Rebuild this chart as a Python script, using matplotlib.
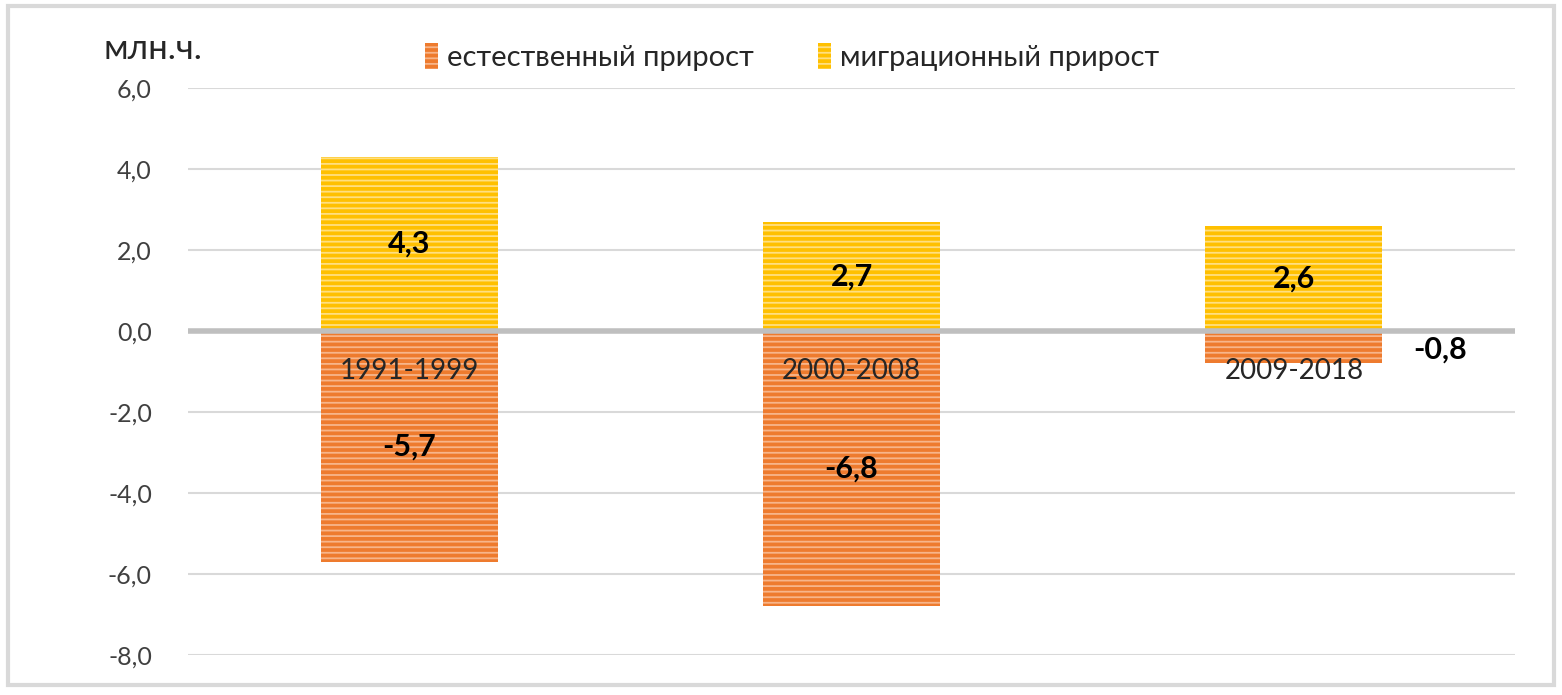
import matplotlib.pyplot as plt
import numpy as np
from matplotlib.patches import Rectangle

plt.rcParams['font.family'] = ['Lato', 'DejaVu Sans']
plt.rcParams['hatch.linewidth'] = 1.3

periods = ['1991-1999', '2000-2008', '2009-2018']
natural = [-5.7, -6.8, -0.8]
migration = [4.3, 2.7, 2.6]
series_names = ['естественный прирост', 'миграционный прирост']

orange = '#EE7B2E'
orange_stripe = '#F7B58A'
yellow = '#FFC000'
yellow_stripe = '#FFDF80'

fig = plt.figure(figsize=(15.62, 6.95), dpi=100)
ax = fig.add_axes([0.1204, 0.0576, 0.8496, 0.8158])

x = np.arange(len(periods))
width = 0.4

b1 = ax.bar(x, natural, width, color=orange, edgecolor=orange_stripe, hatch='---',
            linewidth=0, label=series_names[0], zorder=2)
b2 = ax.bar(x, migration, width, color=yellow, edgecolor=yellow_stripe, hatch='---',
            linewidth=0, label=series_names[1], zorder=2)

ax.set_xlim(-0.5, len(periods) - 0.5)
ax.set_ylim(-8, 6)
ax.set_yticks(np.arange(-8, 7, 2))
ax.set_yticklabels([f'{v:.1f}'.replace('.', ',') for v in np.arange(-8, 7, 2)],
                   fontsize=18, color='#404040')
ax.tick_params(axis='y', length=0, pad=26)
ax.grid(axis='y', color='#D9D9D9', linewidth=1.5, zorder=0)
ax.axhline(0, color='#BFBFBF', linewidth=4, zorder=3)
for s in ax.spines.values():
    s.set_visible(False)

ax.set_xticks([])
for i, p in enumerate(periods):
    ax.text(i, -1.0, p, ha='center', va='center', fontsize=20, color='#262626', zorder=4)

for i in range(len(periods)):
    ax.text(i, migration[i] / 2, f'{migration[i]:.1f}'.replace('.', ','), ha='center',
            va='center', fontsize=22, fontweight='bold', color='black', zorder=4)
    lbl = f'{natural[i]:.1f}'.replace('.', ',')
    if abs(natural[i]) > 2:
        ax.text(i, natural[i] / 2, lbl, ha='center', va='center', fontsize=22,
                fontweight='bold', color='black', zorder=4)
    else:
        ax.text(i + 0.33, -0.45, lbl, ha='center', va='center', fontsize=22,
                fontweight='bold', color='black', zorder=4)

fig.text(0.098, 0.93, 'млн.ч.', ha='center', va='center', fontsize=25, color='#262626')

fig.legend(handles=[b1, b2], loc='center', bbox_to_anchor=(0.507, 0.918), ncol=2,
           frameon=False, fontsize=21, handlelength=0.45, handleheight=1.0,
           handletextpad=0.3, columnspacing=2.2, labelcolor='#262626')

fig.patches.append(Rectangle((0.005, 0.014), 0.99, 0.977, transform=fig.transFigure,
                             fill=False, edgecolor='#D9D9D9', linewidth=3))

fig.savefig('out.png', dpi=100)
